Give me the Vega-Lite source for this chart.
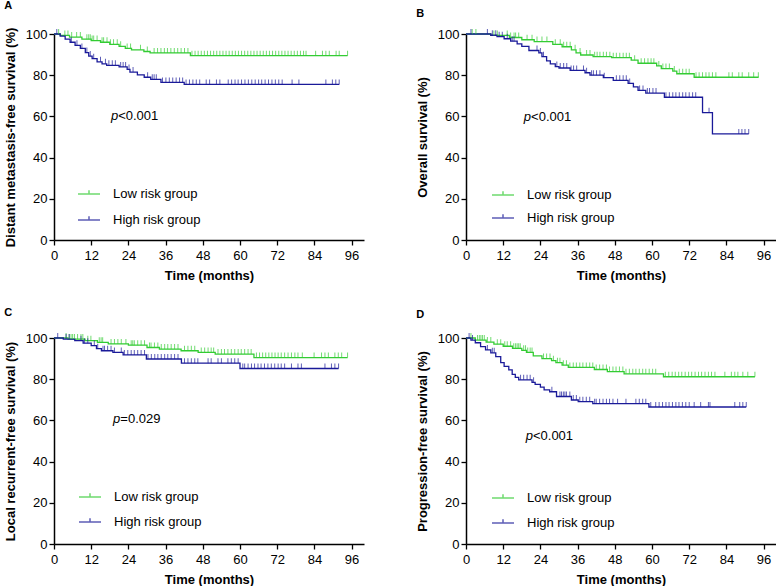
{
"$schema":"https://vega.github.io/schema/vega-lite/v6.json",
"background":"white",
"padding":{"left":4,"top":0,"right":0,"bottom":0},
"autosize":{"type":"pad"},
"config":{
 "font":"Liberation Sans",
 "view":{"stroke":null},
 "title":{"anchor":"start","frame":"bounds","fontSize":11,"fontWeight":"bold","color":"#000","font":"Liberation Sans"},
 "axis":{"grid":false,"domainColor":"#000","domainWidth":1.5,"tickColor":"#000","tickWidth":1.3,"tickSize":5,"labelFontSize":13,"labelColor":"#000","labelFont":"Liberation Sans","titleFont":"Liberation Sans","titleFontSize":13,"titleFontWeight":"bold","titleColor":"#000","labelFlush":false,"labelOverlap":false},
 "axisX":{"labelPadding":4,"titlePadding":7},
 "axisY":{"labelPadding":2,"titlePadding":8},
 "legend":{"labelFont":"Liberation Sans","labelColor":"#000","labelFontSize":13}
},
"datasets":{
"aL":[{"g":"L","t":0,"s":100},{"g":"L","t":2,"s":99.3},{"g":"L","t":5,"s":98.5},{"g":"L","t":9,"s":97.5},{"g":"L","t":12,"s":96.8},{"g":"L","t":15,"s":96},{"g":"L","t":18,"s":95},{"g":"L","t":21,"s":94},{"g":"L","t":23,"s":93},{"g":"L","t":25,"s":92.3},{"g":"L","t":29,"s":91.5},{"g":"L","t":31,"s":90.8},{"g":"L","t":44,"s":89.5},{"g":"L","t":94.7,"s":89.5},
{"g":"H","t":0,"s":100},{"g":"H","t":2,"s":99},{"g":"H","t":3.6,"s":97.5},{"g":"H","t":5.2,"s":96},{"g":"H","t":6.8,"s":94.5},{"g":"H","t":8.5,"s":93},{"g":"H","t":10.1,"s":91},{"g":"H","t":11.2,"s":89.3},{"g":"H","t":12.3,"s":88},{"g":"H","t":13.9,"s":86.5},{"g":"H","t":15.5,"s":85.5},{"g":"H","t":17,"s":84.8},{"g":"H","t":21,"s":84},{"g":"H","t":23.6,"s":82.8},{"g":"H","t":24.5,"s":81.5},{"g":"H","t":26.9,"s":80.2},{"g":"H","t":29.1,"s":79},{"g":"H","t":31.2,"s":78},{"g":"H","t":34.5,"s":76.5},{"g":"H","t":42,"s":75.5},{"g":"H","t":92,"s":75.5}],
"aC":[{"g":"L","t":1.5,"s":100},{"g":"L","t":3.5,"s":99.3},{"g":"L","t":4.5,"s":99.3},{"g":"L","t":5.7,"s":98.5},{"g":"L","t":7.3,"s":98.5},{"g":"L","t":8.5,"s":98.5},{"g":"L","t":10.6,"s":97.5},{"g":"L","t":11.2,"s":97.5},{"g":"L","t":11.7,"s":97.5},{"g":"L","t":12.3,"s":96.8},{"g":"L","t":12.8,"s":96.8},{"g":"L","t":13.9,"s":96.8},{"g":"L","t":15.5,"s":96},{"g":"L","t":16,"s":96},{"g":"L","t":17.1,"s":96},{"g":"L","t":18.2,"s":95},{"g":"L","t":19.2,"s":95},{"g":"L","t":20.4,"s":95},{"g":"L","t":21.5,"s":94},{"g":"L","t":23.6,"s":93},{"g":"L","t":24.7,"s":93},{"g":"L","t":27.9,"s":92.3},{"g":"L","t":30.1,"s":91.5},{"g":"L","t":32.3,"s":90.8},{"g":"L","t":33.4,"s":90.8},{"g":"L","t":34.5,"s":90.8},{"g":"L","t":35.6,"s":90.8},{"g":"L","t":36.6,"s":90.8},{"g":"L","t":37.7,"s":90.8},{"g":"L","t":38.8,"s":90.8},{"g":"L","t":39.9,"s":90.8},{"g":"L","t":41,"s":90.8},{"g":"L","t":42.1,"s":90.8},{"g":"L","t":43.2,"s":90.8},{"g":"L","t":44.5,"s":89.5},{"g":"L","t":45.5,"s":89.5},{"g":"L","t":46.5,"s":89.5},{"g":"L","t":47.5,"s":89.5},{"g":"L","t":48.5,"s":89.5},{"g":"L","t":49.5,"s":89.5},{"g":"L","t":50.5,"s":89.5},{"g":"L","t":51.5,"s":89.5},{"g":"L","t":52.5,"s":89.5},{"g":"L","t":53.5,"s":89.5},{"g":"L","t":54.5,"s":89.5},{"g":"L","t":55.5,"s":89.5},{"g":"L","t":56.5,"s":89.5},{"g":"L","t":57.5,"s":89.5},{"g":"L","t":58.5,"s":89.5},{"g":"L","t":59.5,"s":89.5},{"g":"L","t":60.5,"s":89.5},{"g":"L","t":61.5,"s":89.5},{"g":"L","t":62.5,"s":89.5},{"g":"L","t":63.5,"s":89.5},{"g":"L","t":64.5,"s":89.5},{"g":"L","t":65.5,"s":89.5},{"g":"L","t":66.5,"s":89.5},{"g":"L","t":67.5,"s":89.5},{"g":"L","t":68.5,"s":89.5},{"g":"L","t":69.5,"s":89.5},{"g":"L","t":70.5,"s":89.5},{"g":"L","t":71.5,"s":89.5},{"g":"L","t":72.5,"s":89.5},{"g":"L","t":73.5,"s":89.5},{"g":"L","t":74.5,"s":89.5},{"g":"L","t":75.5,"s":89.5},{"g":"L","t":76.5,"s":89.5},{"g":"L","t":77.5,"s":89.5},{"g":"L","t":78.5,"s":89.5},{"g":"L","t":79.5,"s":89.5},{"g":"L","t":80.5,"s":89.5},{"g":"L","t":81.3,"s":89.5},{"g":"L","t":84.4,"s":89.5},{"g":"L","t":86.6,"s":89.5},{"g":"L","t":87.7,"s":89.5},{"g":"L","t":88.8,"s":89.5},{"g":"L","t":91,"s":89.5},{"g":"L","t":92,"s":89.5},{"g":"L","t":94.7,"s":89.5},
{"g":"H","t":0.9,"s":100},{"g":"H","t":5.6,"s":96},{"g":"H","t":7.4,"s":94.5},{"g":"H","t":9,"s":93},{"g":"H","t":10.6,"s":91},{"g":"H","t":11.7,"s":89.3},{"g":"H","t":12.8,"s":88},{"g":"H","t":15,"s":86.5},{"g":"H","t":16.6,"s":85.5},{"g":"H","t":17.7,"s":84.8},{"g":"H","t":18.8,"s":84.8},{"g":"H","t":19.8,"s":84.8},{"g":"H","t":21.5,"s":84},{"g":"H","t":22.3,"s":84},{"g":"H","t":23.1,"s":84},{"g":"H","t":24.2,"s":82.8},{"g":"H","t":25.5,"s":81.5},{"g":"H","t":30.2,"s":79},{"g":"H","t":31.7,"s":78},{"g":"H","t":32.3,"s":78},{"g":"H","t":33,"s":78},{"g":"H","t":35,"s":76.5},{"g":"H","t":36.1,"s":76.5},{"g":"H","t":37.2,"s":76.5},{"g":"H","t":38.3,"s":76.5},{"g":"H","t":39.4,"s":76.5},{"g":"H","t":40.5,"s":76.5},{"g":"H","t":41.5,"s":76.5},{"g":"H","t":42.6,"s":75.5},{"g":"H","t":43.7,"s":75.5},{"g":"H","t":44.8,"s":75.5},{"g":"H","t":45.9,"s":75.5},{"g":"H","t":47,"s":75.5},{"g":"H","t":49.1,"s":75.5},{"g":"H","t":50.2,"s":75.5},{"g":"H","t":52.4,"s":75.5},{"g":"H","t":53.5,"s":75.5},{"g":"H","t":56.2,"s":75.5},{"g":"H","t":57.3,"s":75.5},{"g":"H","t":58.4,"s":75.5},{"g":"H","t":59.4,"s":75.5},{"g":"H","t":60.5,"s":75.5},{"g":"H","t":61.6,"s":75.5},{"g":"H","t":62.7,"s":75.5},{"g":"H","t":63.8,"s":75.5},{"g":"H","t":64.9,"s":75.5},{"g":"H","t":66,"s":75.5},{"g":"H","t":67,"s":75.5},{"g":"H","t":68.1,"s":75.5},{"g":"H","t":69.2,"s":75.5},{"g":"H","t":70.3,"s":75.5},{"g":"H","t":71.4,"s":75.5},{"g":"H","t":72.5,"s":75.5},{"g":"H","t":73.6,"s":75.5},{"g":"H","t":76.8,"s":75.5},{"g":"H","t":79,"s":75.5},{"g":"H","t":87.7,"s":75.5},{"g":"H","t":89.8,"s":75.5},{"g":"H","t":90.9,"s":75.5},{"g":"H","t":92,"s":75.5}],
"bL":[{"g":"L","t":0,"s":100},{"g":"L","t":8,"s":99.3},{"g":"L","t":14,"s":98.3},{"g":"L","t":18,"s":97.2},{"g":"L","t":22,"s":96.3},{"g":"L","t":28,"s":95},{"g":"L","t":31,"s":93.8},{"g":"L","t":34,"s":92.3},{"g":"L","t":35.5,"s":90.8},{"g":"L","t":37,"s":89.8},{"g":"L","t":41,"s":89},{"g":"L","t":47,"s":88.5},{"g":"L","t":53.3,"s":87.3},{"g":"L","t":55.5,"s":85.8},{"g":"L","t":61.5,"s":84.5},{"g":"L","t":63,"s":83.2},{"g":"L","t":66.7,"s":82},{"g":"L","t":68,"s":80.7},{"g":"L","t":73.6,"s":79},{"g":"L","t":94.4,"s":79},
{"g":"H","t":0,"s":100},{"g":"H","t":8,"s":99.4},{"g":"H","t":10,"s":98.7},{"g":"H","t":12.3,"s":97.7},{"g":"H","t":14.4,"s":96.5},{"g":"H","t":16.5,"s":95.2},{"g":"H","t":18,"s":94},{"g":"H","t":20.3,"s":92},{"g":"H","t":23.5,"s":90.8},{"g":"H","t":24.5,"s":89},{"g":"H","t":26,"s":87},{"g":"H","t":27.2,"s":85.5},{"g":"H","t":28.8,"s":84.2},{"g":"H","t":30,"s":83.5},{"g":"H","t":33.6,"s":82.3},{"g":"H","t":38.4,"s":81.2},{"g":"H","t":40,"s":80},{"g":"H","t":44.3,"s":78.8},{"g":"H","t":47.5,"s":77.5},{"g":"H","t":52.3,"s":76},{"g":"H","t":54,"s":74.3},{"g":"H","t":55.5,"s":72.6},{"g":"H","t":58,"s":71.3},{"g":"H","t":64,"s":69.3},{"g":"H","t":76.3,"s":61.8},{"g":"H","t":79.5,"s":51.5},{"g":"H","t":91.2,"s":51.5}],
"bC":[{"g":"L","t":2,"s":100},{"g":"L","t":3.2,"s":100},{"g":"L","t":9,"s":99.3},{"g":"L","t":10.1,"s":99.3},{"g":"L","t":13.3,"s":99.3},{"g":"L","t":14.4,"s":98.3},{"g":"L","t":15.5,"s":98.3},{"g":"L","t":16,"s":98.3},{"g":"L","t":17,"s":98.3},{"g":"L","t":19.7,"s":97.2},{"g":"L","t":21.3,"s":97.2},{"g":"L","t":22.9,"s":96.3},{"g":"L","t":24.5,"s":96.3},{"g":"L","t":26.1,"s":96.3},{"g":"L","t":28.8,"s":95},{"g":"L","t":30.4,"s":95},{"g":"L","t":31.5,"s":93.8},{"g":"L","t":32.5,"s":93.8},{"g":"L","t":33.6,"s":93.8},{"g":"L","t":35.2,"s":92.3},{"g":"L","t":36.8,"s":90.8},{"g":"L","t":38.9,"s":89.8},{"g":"L","t":40,"s":89.8},{"g":"L","t":41.5,"s":89},{"g":"L","t":42.3,"s":89},{"g":"L","t":43.2,"s":89},{"g":"L","t":44.3,"s":89},{"g":"L","t":45.3,"s":89},{"g":"L","t":46.4,"s":89},{"g":"L","t":47.5,"s":88.5},{"g":"L","t":48.5,"s":88.5},{"g":"L","t":49.6,"s":88.5},{"g":"L","t":50.7,"s":88.5},{"g":"L","t":51.7,"s":88.5},{"g":"L","t":52.7,"s":88.5},{"g":"L","t":54.4,"s":87.3},{"g":"L","t":56.5,"s":85.8},{"g":"L","t":57.6,"s":85.8},{"g":"L","t":58.7,"s":85.8},{"g":"L","t":59.7,"s":85.8},{"g":"L","t":60.6,"s":85.8},{"g":"L","t":62.2,"s":84.5},{"g":"L","t":63.5,"s":83.2},{"g":"L","t":64.5,"s":83.2},{"g":"L","t":65.6,"s":83.2},{"g":"L","t":67.2,"s":82},{"g":"L","t":68.8,"s":80.7},{"g":"L","t":69.9,"s":80.7},{"g":"L","t":71,"s":80.7},{"g":"L","t":72,"s":80.7},{"g":"L","t":74.2,"s":79},{"g":"L","t":75.2,"s":79},{"g":"L","t":76.3,"s":79},{"g":"L","t":77.4,"s":79},{"g":"L","t":78.4,"s":79},{"g":"L","t":79.5,"s":79},{"g":"L","t":80.6,"s":79},{"g":"L","t":84.8,"s":79},{"g":"L","t":85.9,"s":79},{"g":"L","t":88,"s":79},{"g":"L","t":89.1,"s":79},{"g":"L","t":91.2,"s":79},{"g":"L","t":92.8,"s":79},{"g":"L","t":94.3,"s":79},
{"g":"H","t":1.6,"s":100},{"g":"H","t":6.9,"s":100},{"g":"H","t":8.5,"s":99.4},{"g":"H","t":9.6,"s":99.4},{"g":"H","t":10.7,"s":98.7},{"g":"H","t":11.7,"s":98.7},{"g":"H","t":13.3,"s":97.7},{"g":"H","t":14.9,"s":96.5},{"g":"H","t":15.5,"s":96.5},{"g":"H","t":22.9,"s":92},{"g":"H","t":24,"s":90.8},{"g":"H","t":25,"s":89},{"g":"H","t":29.3,"s":84.2},{"g":"H","t":30.4,"s":83.5},{"g":"H","t":31.5,"s":83.5},{"g":"H","t":32.5,"s":83.5},{"g":"H","t":33.9,"s":82.3},{"g":"H","t":34.7,"s":82.3},{"g":"H","t":35.7,"s":82.3},{"g":"H","t":37.9,"s":82.3},{"g":"H","t":38.9,"s":81.2},{"g":"H","t":40.5,"s":80},{"g":"H","t":41.1,"s":80},{"g":"H","t":42.1,"s":80},{"g":"H","t":43.2,"s":80},{"g":"H","t":44.6,"s":78.8},{"g":"H","t":48.5,"s":77.5},{"g":"H","t":49.6,"s":77.5},{"g":"H","t":50.7,"s":77.5},{"g":"H","t":51.7,"s":77.5},{"g":"H","t":52.8,"s":76},{"g":"H","t":56,"s":72.6},{"g":"H","t":57.1,"s":72.6},{"g":"H","t":58.5,"s":71.3},{"g":"H","t":59.2,"s":71.3},{"g":"H","t":60.3,"s":71.3},{"g":"H","t":61.3,"s":71.3},{"g":"H","t":64.5,"s":69.3},{"g":"H","t":65.6,"s":69.3},{"g":"H","t":66.7,"s":69.3},{"g":"H","t":67.7,"s":69.3},{"g":"H","t":68.8,"s":69.3},{"g":"H","t":69.9,"s":69.3},{"g":"H","t":70.9,"s":69.3},{"g":"H","t":72,"s":69.3},{"g":"H","t":73.1,"s":69.3},{"g":"H","t":74.1,"s":69.3},{"g":"H","t":78.4,"s":61.8},{"g":"H","t":88,"s":51.5},{"g":"H","t":89,"s":51.5},{"g":"H","t":90,"s":51.5},{"g":"H","t":91.2,"s":51.5}],
"cL":[{"g":"L","t":0,"s":100},{"g":"L","t":4.5,"s":99.5},{"g":"L","t":10,"s":98.7},{"g":"L","t":14,"s":97.9},{"g":"L","t":17.5,"s":97.1},{"g":"L","t":24,"s":96.5},{"g":"L","t":30,"s":95.4},{"g":"L","t":34,"s":94.6},{"g":"L","t":41,"s":93.8},{"g":"L","t":46.5,"s":93},{"g":"L","t":52,"s":92.2},{"g":"L","t":64.5,"s":90.5},{"g":"L","t":94.7,"s":90.5},
{"g":"H","t":0,"s":100},{"g":"H","t":3,"s":99.5},{"g":"H","t":6.7,"s":98.7},{"g":"H","t":9.4,"s":97.5},{"g":"H","t":12,"s":96.3},{"g":"H","t":13.7,"s":94.8},{"g":"H","t":15.3,"s":93.8},{"g":"H","t":19,"s":93},{"g":"H","t":22.3,"s":91.8},{"g":"H","t":29.8,"s":89.8},{"g":"H","t":41.1,"s":87.8},{"g":"H","t":60,"s":85.2},{"g":"H","t":91.8,"s":85.2}],
"cC":[{"g":"L","t":3.9,"s":100},{"g":"L","t":4.9,"s":99.5},{"g":"L","t":5.5,"s":99.5},{"g":"L","t":6,"s":99.5},{"g":"L","t":6.6,"s":99.5},{"g":"L","t":7.6,"s":99.5},{"g":"L","t":8.7,"s":99.5},{"g":"L","t":9.3,"s":99.5},{"g":"L","t":10.9,"s":98.7},{"g":"L","t":11.9,"s":98.7},{"g":"L","t":14.6,"s":97.9},{"g":"L","t":15.2,"s":97.9},{"g":"L","t":15.7,"s":97.9},{"g":"L","t":18.4,"s":97.1},{"g":"L","t":19.5,"s":97.1},{"g":"L","t":20.6,"s":97.1},{"g":"L","t":21.7,"s":97.1},{"g":"L","t":23.2,"s":97.1},{"g":"L","t":24.9,"s":96.5},{"g":"L","t":25.4,"s":96.5},{"g":"L","t":25.9,"s":96.5},{"g":"L","t":27,"s":96.5},{"g":"L","t":28.1,"s":96.5},{"g":"L","t":29.2,"s":96.5},{"g":"L","t":30.8,"s":95.4},{"g":"L","t":31.3,"s":95.4},{"g":"L","t":32.4,"s":95.4},{"g":"L","t":33.5,"s":95.4},{"g":"L","t":34.6,"s":94.6},{"g":"L","t":35.7,"s":94.6},{"g":"L","t":36.7,"s":94.6},{"g":"L","t":37.8,"s":94.6},{"g":"L","t":38.9,"s":94.6},{"g":"L","t":40,"s":94.6},{"g":"L","t":42.1,"s":93.8},{"g":"L","t":43.2,"s":93.8},{"g":"L","t":44.3,"s":93.8},{"g":"L","t":45.4,"s":93.8},{"g":"L","t":47.5,"s":93},{"g":"L","t":48.6,"s":93},{"g":"L","t":49.7,"s":93},{"g":"L","t":50.7,"s":93},{"g":"L","t":51.5,"s":93},{"g":"L","t":52.9,"s":92.2},{"g":"L","t":54,"s":92.2},{"g":"L","t":55,"s":92.2},{"g":"L","t":56.1,"s":92.2},{"g":"L","t":57.2,"s":92.2},{"g":"L","t":58.3,"s":92.2},{"g":"L","t":59.4,"s":92.2},{"g":"L","t":60.4,"s":92.2},{"g":"L","t":61.5,"s":92.2},{"g":"L","t":62.6,"s":92.2},{"g":"L","t":63.6,"s":92.2},{"g":"L","t":65.3,"s":90.5},{"g":"L","t":66.3,"s":90.5},{"g":"L","t":67.3,"s":90.5},{"g":"L","t":68.3,"s":90.5},{"g":"L","t":69.3,"s":90.5},{"g":"L","t":70.3,"s":90.5},{"g":"L","t":71.3,"s":90.5},{"g":"L","t":72.3,"s":90.5},{"g":"L","t":73.3,"s":90.5},{"g":"L","t":74.4,"s":90.5},{"g":"L","t":75.5,"s":90.5},{"g":"L","t":76.6,"s":90.5},{"g":"L","t":77.7,"s":90.5},{"g":"L","t":78.7,"s":90.5},{"g":"L","t":80.1,"s":90.5},{"g":"L","t":83.9,"s":90.5},{"g":"L","t":86.3,"s":90.5},{"g":"L","t":87.4,"s":90.5},{"g":"L","t":88.5,"s":90.5},{"g":"L","t":90.6,"s":90.5},{"g":"L","t":91.7,"s":90.5},{"g":"L","t":92.8,"s":90.5},{"g":"L","t":94.7,"s":90.5},
{"g":"H","t":1.2,"s":100},{"g":"H","t":3.9,"s":99.5},{"g":"H","t":4.9,"s":99.5},{"g":"H","t":8.7,"s":98.7},{"g":"H","t":9.8,"s":97.5},{"g":"H","t":10.9,"s":97.5},{"g":"H","t":13,"s":96.3},{"g":"H","t":14.1,"s":94.8},{"g":"H","t":15.8,"s":93.8},{"g":"H","t":16.3,"s":93.8},{"g":"H","t":17.3,"s":93.8},{"g":"H","t":18.4,"s":93.8},{"g":"H","t":19.5,"s":93},{"g":"H","t":21.7,"s":93},{"g":"H","t":22.7,"s":91.8},{"g":"H","t":23.8,"s":91.8},{"g":"H","t":24.9,"s":91.8},{"g":"H","t":25.9,"s":91.8},{"g":"H","t":27,"s":91.8},{"g":"H","t":28.1,"s":91.8},{"g":"H","t":29.2,"s":91.8},{"g":"H","t":30.3,"s":89.8},{"g":"H","t":31.4,"s":89.8},{"g":"H","t":32.5,"s":89.8},{"g":"H","t":33.5,"s":89.8},{"g":"H","t":34.6,"s":89.8},{"g":"H","t":35.7,"s":89.8},{"g":"H","t":36.7,"s":89.8},{"g":"H","t":37.8,"s":89.8},{"g":"H","t":38.9,"s":89.8},{"g":"H","t":40,"s":89.8},{"g":"H","t":42.1,"s":87.8},{"g":"H","t":43.2,"s":87.8},{"g":"H","t":44.3,"s":87.8},{"g":"H","t":45.4,"s":87.8},{"g":"H","t":46.4,"s":87.8},{"g":"H","t":49.7,"s":87.8},{"g":"H","t":50.7,"s":87.8},{"g":"H","t":52.9,"s":87.8},{"g":"H","t":54,"s":87.8},{"g":"H","t":56.1,"s":87.8},{"g":"H","t":57.2,"s":87.8},{"g":"H","t":58.3,"s":87.8},{"g":"H","t":59.4,"s":87.8},{"g":"H","t":60.9,"s":85.2},{"g":"H","t":61.5,"s":85.2},{"g":"H","t":62.6,"s":85.2},{"g":"H","t":63.7,"s":85.2},{"g":"H","t":64.7,"s":85.2},{"g":"H","t":65.8,"s":85.2},{"g":"H","t":66.8,"s":85.2},{"g":"H","t":67.9,"s":85.2},{"g":"H","t":69,"s":85.2},{"g":"H","t":70.1,"s":85.2},{"g":"H","t":71.2,"s":85.2},{"g":"H","t":72.3,"s":85.2},{"g":"H","t":73.3,"s":85.2},{"g":"H","t":74.4,"s":85.2},{"g":"H","t":76.6,"s":85.2},{"g":"H","t":78.7,"s":85.2},{"g":"H","t":79.8,"s":85.2},{"g":"H","t":87.4,"s":85.2},{"g":"H","t":89.5,"s":85.2},{"g":"H","t":90.6,"s":85.2},{"g":"H","t":91.8,"s":85.2}],
"dL":[{"g":"L","t":0,"s":100},{"g":"L","t":3,"s":99},{"g":"L","t":6.5,"s":98},{"g":"L","t":9,"s":97},{"g":"L","t":12,"s":96},{"g":"L","t":15,"s":95},{"g":"L","t":18,"s":94},{"g":"L","t":19.5,"s":93},{"g":"L","t":21.7,"s":91.3},{"g":"L","t":24.5,"s":90},{"g":"L","t":27.6,"s":89},{"g":"L","t":29,"s":88},{"g":"L","t":31,"s":86.8},{"g":"L","t":33,"s":85.7},{"g":"L","t":41.4,"s":84.7},{"g":"L","t":45.6,"s":83.7},{"g":"L","t":51,"s":82.6},{"g":"L","t":63.7,"s":81.2},{"g":"L","t":93.2,"s":81.2},
{"g":"H","t":0,"s":100},{"g":"H","t":1.6,"s":99},{"g":"H","t":3,"s":97.7},{"g":"H","t":4.7,"s":95.8},{"g":"H","t":6.3,"s":94.2},{"g":"H","t":8,"s":92.8},{"g":"H","t":9.6,"s":91},{"g":"H","t":11.2,"s":88},{"g":"H","t":12.3,"s":86.2},{"g":"H","t":13.8,"s":84.5},{"g":"H","t":14.9,"s":82.3},{"g":"H","t":15.9,"s":80.9},{"g":"H","t":17,"s":79.7},{"g":"H","t":21.3,"s":78.5},{"g":"H","t":22.3,"s":77.5},{"g":"H","t":24,"s":76.2},{"g":"H","t":25.2,"s":74.8},{"g":"H","t":27,"s":73.9},{"g":"H","t":29.2,"s":71.6},{"g":"H","t":34,"s":69.9},{"g":"H","t":36.2,"s":69.1},{"g":"H","t":40.9,"s":68.1},{"g":"H","t":59,"s":66.5},{"g":"H","t":90.4,"s":66.5}],
"dC":[{"g":"L","t":1.6,"s":100},{"g":"L","t":3.7,"s":99},{"g":"L","t":4.3,"s":99},{"g":"L","t":4.8,"s":99},{"g":"L","t":5.3,"s":99},{"g":"L","t":5.9,"s":99},{"g":"L","t":6.9,"s":98},{"g":"L","t":8,"s":98},{"g":"L","t":10.1,"s":97},{"g":"L","t":11.2,"s":97},{"g":"L","t":12.5,"s":96},{"g":"L","t":13.3,"s":96},{"g":"L","t":14.4,"s":96},{"g":"L","t":15.4,"s":95},{"g":"L","t":16,"s":95},{"g":"L","t":16.5,"s":95},{"g":"L","t":17,"s":95},{"g":"L","t":17.5,"s":95},{"g":"L","t":18.6,"s":94},{"g":"L","t":19.2,"s":94},{"g":"L","t":19.9,"s":93},{"g":"L","t":20.7,"s":93},{"g":"L","t":21.3,"s":93},{"g":"L","t":25,"s":90},{"g":"L","t":26,"s":90},{"g":"L","t":27.1,"s":90},{"g":"L","t":28.2,"s":89},{"g":"L","t":29.5,"s":88},{"g":"L","t":30.3,"s":88},{"g":"L","t":31.4,"s":86.8},{"g":"L","t":32.4,"s":86.8},{"g":"L","t":33.5,"s":85.7},{"g":"L","t":34.6,"s":85.7},{"g":"L","t":35.6,"s":85.7},{"g":"L","t":36.7,"s":85.7},{"g":"L","t":37.7,"s":85.7},{"g":"L","t":38.8,"s":85.7},{"g":"L","t":39.9,"s":85.7},{"g":"L","t":40.9,"s":85.7},{"g":"L","t":42,"s":84.7},{"g":"L","t":43.1,"s":84.7},{"g":"L","t":44.2,"s":84.7},{"g":"L","t":45.3,"s":84.7},{"g":"L","t":46.3,"s":83.7},{"g":"L","t":47.4,"s":83.7},{"g":"L","t":48.4,"s":83.7},{"g":"L","t":49.5,"s":83.7},{"g":"L","t":50.6,"s":83.7},{"g":"L","t":51.6,"s":82.6},{"g":"L","t":52.7,"s":82.6},{"g":"L","t":53.8,"s":82.6},{"g":"L","t":54.8,"s":82.6},{"g":"L","t":55.9,"s":82.6},{"g":"L","t":57,"s":82.6},{"g":"L","t":58,"s":82.6},{"g":"L","t":59.1,"s":82.6},{"g":"L","t":60.2,"s":82.6},{"g":"L","t":61.2,"s":82.6},{"g":"L","t":64.3,"s":81.2},{"g":"L","t":65.4,"s":81.2},{"g":"L","t":66.5,"s":81.2},{"g":"L","t":67.5,"s":81.2},{"g":"L","t":68.6,"s":81.2},{"g":"L","t":69.6,"s":81.2},{"g":"L","t":70.7,"s":81.2},{"g":"L","t":71.8,"s":81.2},{"g":"L","t":72.8,"s":81.2},{"g":"L","t":73.9,"s":81.2},{"g":"L","t":75,"s":81.2},{"g":"L","t":76,"s":81.2},{"g":"L","t":77.1,"s":81.2},{"g":"L","t":78.2,"s":81.2},{"g":"L","t":79.2,"s":81.2},{"g":"L","t":80.3,"s":81.2},{"g":"L","t":83.5,"s":81.2},{"g":"L","t":85.6,"s":81.2},{"g":"L","t":86.7,"s":81.2},{"g":"L","t":87.7,"s":81.2},{"g":"L","t":89.3,"s":81.2},{"g":"L","t":90.9,"s":81.2},{"g":"L","t":93.2,"s":81.2},
{"g":"H","t":1,"s":100},{"g":"H","t":2.1,"s":99},{"g":"H","t":6.9,"s":94.2},{"g":"H","t":8.5,"s":92.8},{"g":"H","t":9.1,"s":92.8},{"g":"H","t":17.6,"s":79.7},{"g":"H","t":18.6,"s":79.7},{"g":"H","t":19.7,"s":79.7},{"g":"H","t":20.7,"s":79.7},{"g":"H","t":21.8,"s":78.5},{"g":"H","t":27.7,"s":73.9},{"g":"H","t":30.3,"s":71.6},{"g":"H","t":30.8,"s":71.6},{"g":"H","t":31.4,"s":71.6},{"g":"H","t":31.9,"s":71.6},{"g":"H","t":32.4,"s":71.6},{"g":"H","t":33.5,"s":71.6},{"g":"H","t":34.6,"s":69.9},{"g":"H","t":35.6,"s":69.9},{"g":"H","t":36.7,"s":69.1},{"g":"H","t":37.7,"s":69.1},{"g":"H","t":38.8,"s":69.1},{"g":"H","t":39.9,"s":69.1},{"g":"H","t":41.5,"s":68.1},{"g":"H","t":42,"s":68.1},{"g":"H","t":43.1,"s":68.1},{"g":"H","t":44.2,"s":68.1},{"g":"H","t":45.3,"s":68.1},{"g":"H","t":46.3,"s":68.1},{"g":"H","t":47.4,"s":68.1},{"g":"H","t":48.9,"s":68.1},{"g":"H","t":51.6,"s":68.1},{"g":"H","t":54.8,"s":68.1},{"g":"H","t":55.9,"s":68.1},{"g":"H","t":57,"s":68.1},{"g":"H","t":58,"s":68.1},{"g":"H","t":59.6,"s":66.5},{"g":"H","t":61.2,"s":66.5},{"g":"H","t":62.3,"s":66.5},{"g":"H","t":63.4,"s":66.5},{"g":"H","t":64.5,"s":66.5},{"g":"H","t":65.5,"s":66.5},{"g":"H","t":66.6,"s":66.5},{"g":"H","t":67.7,"s":66.5},{"g":"H","t":68.7,"s":66.5},{"g":"H","t":69.8,"s":66.5},{"g":"H","t":70.9,"s":66.5},{"g":"H","t":72,"s":66.5},{"g":"H","t":73.6,"s":66.5},{"g":"H","t":75.7,"s":66.5},{"g":"H","t":78.2,"s":66.5},{"g":"H","t":78.7,"s":66.5},{"g":"H","t":86.7,"s":66.5},{"g":"H","t":88.3,"s":66.5},{"g":"H","t":89.3,"s":66.5},{"g":"H","t":90.4,"s":66.5}]
},
"resolve":{"scale":{"color":"independent"},"legend":{"color":"independent"}},
"spacing":25,
"vconcat":[
{"hconcat":[
{"width":310,"height":206,"title":{"text":"A","offset":16},
 "encoding":{
  "x":{"field":"t","type":"quantitative","scale":{"domain":[0,100],"nice":false},"axis":{"values":[0,12,24,36,48,60,72,84,96],"title":"Time (months)"}},
  "y":{"field":"s","type":"quantitative","scale":{"domain":[0,100]},"axis":{"values":[0,20,40,60,80,100],"title":"Distant metastasis-free survival (%)"}},
  "color":{"field":"g","type":"nominal","scale":{"domain":["L","H"],"range":["#33cc33","#1a1a99"]},"legend":{"orient":"none","legendX":23,"legendY":148,"title":null,"symbolType":"M-1,0H1M0,0V-0.35","symbolSize":484,"symbolStrokeWidth":1.5,"labelOffset":12,"rowPadding":7,"labelExpr":"datum.label == 'L' ? 'Low risk group' : 'High risk group'"}}
 },
 "layer":[
  {"data":{"name":"aL"},"mark":{"type":"line","interpolate":"step-after","strokeWidth":1.3},"encoding":{}},
  {"data":{"name":"aC"},"mark":{"type":"tick","orient":"vertical","size":5,"thickness":1,"yOffset":-2.5},"encoding":{}},
  {"data":{"values":[{"t":20.7,"s":60,"a":"p","b":"<0.001"}]},"mark":{"type":"text","fontStyle":"italic","align":"right","fontSize":13},"encoding":{"text":{"field":"a"},"color":{"value":"#000"}}},
  {"data":{"values":[{"t":20.7,"s":60,"a":"p","b":"<0.001"}]},"mark":{"type":"text","align":"left","fontSize":13},"encoding":{"text":{"field":"b"},"color":{"value":"#000"}}}
 ]},
{"width":310,"height":206,"title":{"text":"B","offset":9},
 "encoding":{
  "x":{"field":"t","type":"quantitative","scale":{"domain":[0,100],"nice":false},"axis":{"values":[0,12,24,36,48,60,72,84,96],"title":"Time (months)"}},
  "y":{"field":"s","type":"quantitative","scale":{"domain":[0,100]},"axis":{"values":[0,20,40,60,80,100],"title":"Overall survival (%)"}},
  "color":{"field":"g","type":"nominal","scale":{"domain":["L","H"],"range":["#33cc33","#1a1a99"]},"legend":{"orient":"none","legendX":25,"legendY":149,"title":null,"symbolType":"M-1,0H1M0,0V-0.35","symbolSize":484,"symbolStrokeWidth":1.5,"labelOffset":12,"rowPadding":4,"labelExpr":"datum.label == 'L' ? 'Low risk group' : 'High risk group'"}}
 },
 "layer":[
  {"data":{"name":"bL"},"mark":{"type":"line","interpolate":"step-after","strokeWidth":1.3},"encoding":{}},
  {"data":{"name":"bC"},"mark":{"type":"tick","orient":"vertical","size":5,"thickness":1,"yOffset":-2.5},"encoding":{}},
  {"data":{"values":[{"t":21,"s":59.8,"a":"p","b":"<0.001"}]},"mark":{"type":"text","fontStyle":"italic","align":"right","fontSize":13},"encoding":{"text":{"field":"a"},"color":{"value":"#000"}}},
  {"data":{"values":[{"t":21,"s":59.8,"a":"p","b":"<0.001"}]},"mark":{"type":"text","align":"left","fontSize":13},"encoding":{"text":{"field":"b"},"color":{"value":"#000"}}}
 ]}
],"spacing":52,"resolve":{"scale":{"color":"independent"},"legend":{"color":"independent"}}},
{"hconcat":[
{"width":310,"height":206,"title":{"text":"C","offset":14},
 "encoding":{
  "x":{"field":"t","type":"quantitative","scale":{"domain":[0,100],"nice":false},"axis":{"values":[0,12,24,36,48,60,72,84,96],"title":"Time (months)"}},
  "y":{"field":"s","type":"quantitative","scale":{"domain":[0,100]},"axis":{"values":[0,20,40,60,80,100],"title":"Local recurrent-free survival (%)"}},
  "color":{"field":"g","type":"nominal","scale":{"domain":["L","H"],"range":["#33cc33","#1a1a99"]},"legend":{"orient":"none","legendX":24,"legendY":147,"title":null,"symbolType":"M-1,0H1M0,0V-0.35","symbolSize":484,"symbolStrokeWidth":1.5,"labelOffset":12,"rowPadding":6,"labelExpr":"datum.label == 'L' ? 'Low risk group' : 'High risk group'"}}
 },
 "layer":[
  {"data":{"name":"cL"},"mark":{"type":"line","interpolate":"step-after","strokeWidth":1.3},"encoding":{}},
  {"data":{"name":"cC"},"mark":{"type":"tick","orient":"vertical","size":5,"thickness":1,"yOffset":-2.5},"encoding":{}},
  {"data":{"values":[{"t":21.4,"s":60.5,"a":"p","b":"=0.029"}]},"mark":{"type":"text","fontStyle":"italic","align":"right","fontSize":13},"encoding":{"text":{"field":"a"},"color":{"value":"#000"}}},
  {"data":{"values":[{"t":21.4,"s":60.5,"a":"p","b":"=0.029"}]},"mark":{"type":"text","align":"left","fontSize":13},"encoding":{"text":{"field":"b"},"color":{"value":"#000"}}}
 ]},
{"width":310,"height":206,"title":{"text":"D","offset":12},
 "encoding":{
  "x":{"field":"t","type":"quantitative","scale":{"domain":[0,100],"nice":false},"axis":{"values":[0,12,24,36,48,60,72,84,96],"title":"Time (months)"}},
  "y":{"field":"s","type":"quantitative","scale":{"domain":[0,100]},"axis":{"values":[0,20,40,60,80,100],"title":"Progression-free survival (%)"}},
  "color":{"field":"g","type":"nominal","scale":{"domain":["L","H"],"range":["#33cc33","#1a1a99"]},"legend":{"orient":"none","legendX":25,"legendY":148,"title":null,"symbolType":"M-1,0H1M0,0V-0.35","symbolSize":484,"symbolStrokeWidth":1.5,"labelOffset":12,"rowPadding":6,"labelExpr":"datum.label == 'L' ? 'Low risk group' : 'High risk group'"}}
 },
 "layer":[
  {"data":{"name":"dL"},"mark":{"type":"line","interpolate":"step-after","strokeWidth":1.3},"encoding":{}},
  {"data":{"name":"dC"},"mark":{"type":"tick","orient":"vertical","size":5,"thickness":1,"yOffset":-2.5},"encoding":{}},
  {"data":{"values":[{"t":21.6,"s":52.5,"a":"p","b":"<0.001"}]},"mark":{"type":"text","fontStyle":"italic","align":"right","fontSize":13},"encoding":{"text":{"field":"a"},"color":{"value":"#000"}}},
  {"data":{"values":[{"t":21.6,"s":52.5,"a":"p","b":"<0.001"}]},"mark":{"type":"text","align":"left","fontSize":13},"encoding":{"text":{"field":"b"},"color":{"value":"#000"}}}
 ]}
],"spacing":52,"resolve":{"scale":{"color":"independent"},"legend":{"color":"independent"}}}
]
}
